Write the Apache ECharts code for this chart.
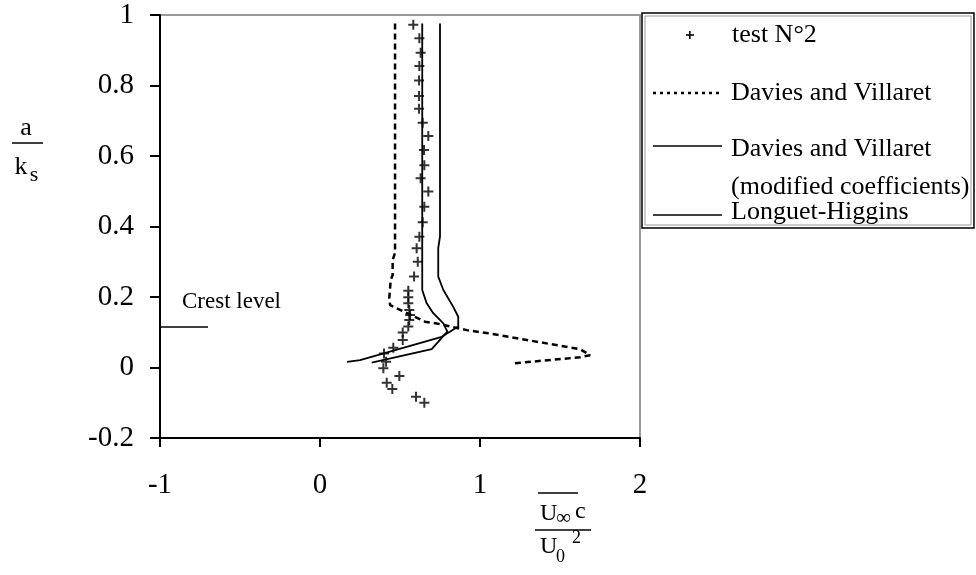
<!DOCTYPE html>
<html>
<head>
<meta charset="utf-8">
<script src="https://cdn.jsdelivr.net/npm/echarts@6/dist/echarts.min.js"></script>
<style>
  html, body { margin: 0; padding: 0; background: #fff; }
  #chart { width: 976px; height: 575px; }
</style>
</head>
<body>
<div id="chart"></div>
<script>
  // test N°2 (crosses)
  var testX = [0.583, 0.621, 0.629, 0.621, 0.619, 0.619, 0.619, 0.642, 0.677, 0.650, 0.652, 0.629, 0.677, 0.652,
    0.642, 0.621, 0.604, 0.611, 0.588, 0.552, 0.552, 0.552, 0.558, 0.563, 0.558, 0.552, 0.517, 0.517,
    0.458, 0.400, 0.413, 0.396, 0.496, 0.417, 0.452, 0.600, 0.652];
  var testY = [0.972, 0.934, 0.893, 0.855, 0.814, 0.770, 0.734, 0.694, 0.657, 0.617, 0.574, 0.537, 0.499, 0.456,
    0.412, 0.371, 0.338, 0.300, 0.258, 0.218, 0.199, 0.182, 0.163, 0.149, 0.135, 0.116, 0.099, 0.078,
    0.056, 0.040, 0.016, -0.002, -0.024, -0.043, -0.061, -0.083, -0.100];

  // Davies and Villaret (dotted)
  var dvX = [0.469, 0.469, 0.454, 0.454, 0.442, 0.433, 0.438, 0.656, 0.729, 0.917, 1.052, 1.625, 1.688, 1.625, 1.214];
  var dvY = [0.976, 0.325, 0.305, 0.262, 0.248, 0.197, 0.177, 0.130, 0.125, 0.106, 0.097, 0.052, 0.035, 0.029, 0.012];

  // Davies and Villaret (modified coefficients)
  var dvmX = [0.639, 0.639, 0.667, 0.708, 0.771, 0.796, 0.698, 0.323];
  var dvmY = [0.976, 0.220, 0.182, 0.154, 0.125, 0.102, 0.052, 0.014];

  // Longuet-Higgins
  var lhX = [0.750, 0.750, 0.739, 0.739, 0.771, 0.833, 0.864, 0.864, 0.761, 0.250, 0.169];
  var lhY = [0.976, 0.371, 0.339, 0.258, 0.220, 0.172, 0.144, 0.116, 0.087, 0.021, 0.016];

  // crest level
  var crestX = [-1, -0.7];
  var crestY = [0.115, 0.115];

  function pairs(xs, ys) {
    return xs.map(function (x, i) { return [x, ys[i]]; });
  }

  var serif = 'Liberation Serif';
  var plus = 'path://M4,0h2v4h4v2h-4v4h-2v-4h-4v-2h4z';

  function txt(x, y, s, size, extra) {
    var el = {type: 'text', x: x, y: y, z: 12,
      style: {text: s, font: size + 'px ' + serif, fill: '#000', align: 'left', verticalAlign: 'middle'}};
    if (extra) el.style.align = extra;
    return el;
  }
  function seg(x1, y1, x2, y2, w, dash) {
    return {type: 'line', z: 12, shape: {x1: x1, y1: y1, x2: x2, y2: y2},
      style: {stroke: '#000', lineWidth: w, lineDash: dash || null}};
  }

  var myChart = echarts.init(document.getElementById('chart'));
  myChart.setOption({
    animation: false,
    grid: {
      left: 160, right: 336, top: 15, bottom: 137,
      show: true,
      borderColor: '#999',
      borderWidth: 2
    },
    xAxis: {
      type: 'value',
      min: -1, max: 2, interval: 1,
      splitLine: {show: false},
      axisLine: {onZero: false, lineStyle: {color: '#000', width: 2}},
      axisTick: {length: 9, lineStyle: {color: '#000', width: 2}},
      axisLabel: {margin: 33, color: '#000', fontFamily: serif, fontSize: 29}
    },
    yAxis: {
      type: 'value',
      min: -0.2, max: 1, interval: 0.2,
      splitLine: {show: false},
      axisLine: {onZero: false, lineStyle: {color: '#000', width: 2}},
      axisTick: {length: 10, lineStyle: {color: '#000', width: 2}},
      axisLabel: {margin: 26, color: '#000', fontFamily: serif, fontSize: 29}
    },
    series: [
      {
        name: 'test N°2', type: 'scatter',
        data: pairs(testX, testY),
        symbol: plus, symbolSize: 10,
        itemStyle: {color: '#000'}
      },
      {
        name: 'Davies and Villaret', type: 'line',
        data: pairs(dvX, dvY), showSymbol: false,
        lineStyle: {color: '#000', width: 2.5, type: [6, 4]}
      },
      {
        name: 'Davies and Villaret (modified coefficients)', type: 'line',
        data: pairs(dvmX, dvmY), showSymbol: false,
        lineStyle: {color: '#000', width: 1.8}
      },
      {
        name: 'Longuet-Higgins', type: 'line',
        data: pairs(lhX, lhY), showSymbol: false,
        lineStyle: {color: '#000', width: 1.8}
      },
      {
        name: 'Crest level', type: 'line',
        data: pairs(crestX, crestY), showSymbol: false,
        lineStyle: {color: '#000', width: 1.5}
      }
    ],
    graphic: [
      // crest label
      txt(182, 302, 'Crest level', 23),

      // y axis name a / k_s
      txt(26, 128, 'a', 26, 'center'),
      seg(12, 143, 43, 143, 1.5),
      txt(21, 167, 'k', 26, 'center'),
      txt(34, 175, 's', 22, 'center'),

      // x axis name  overline(U∞c) / U0^2
      seg(538, 493, 578, 493, 1.5),
      txt(540, 514, 'U', 24),
      txt(556, 518, '∞', 21),
      txt(575, 512, 'c', 24),
      seg(535, 530, 591, 530, 1.5),
      txt(540, 547, 'U', 24),
      txt(556, 557, '0', 18),
      txt(572, 538, '2', 18),

      // legend box
      {type: 'rect', shape: {x: 642, y: 13, width: 332, height: 215}, style: {fill: '#fff', stroke: '#000', lineWidth: 1.5}, z: 10},
      {type: 'rect', shape: {x: 645, y: 16, width: 326, height: 209}, style: {fill: 'none', stroke: '#999', lineWidth: 1}, z: 11},
      {type: 'rect', z: 12, shape: {x: 689, y: 31, width: 1.6, height: 8}, style: {fill: '#000'}},
      {type: 'rect', z: 12, shape: {x: 686, y: 34.2, width: 8, height: 1.6}, style: {fill: '#000'}},
      txt(732, 35, 'test N°2', 26),
      seg(653, 93, 722, 93, 2.5, [3, 4]),
      txt(731, 93, 'Davies and Villaret', 26),
      seg(653, 146, 722, 146, 1.5),
      txt(731, 149, 'Davies and Villaret', 26),
      txt(731, 187, '(modified coefficients)', 26),
      seg(653, 215, 722, 215, 1.5),
      txt(731, 212, 'Longuet-Higgins', 26)
    ]
  });
</script>
</body>
</html>
